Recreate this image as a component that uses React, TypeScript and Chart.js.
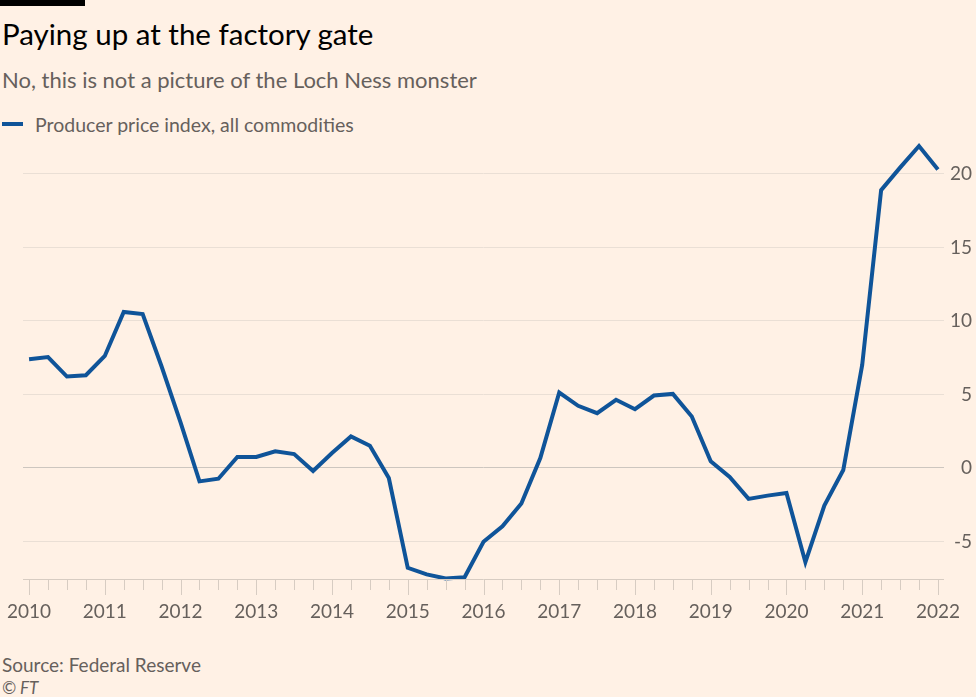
import React, { useEffect, useRef } from "react";
import { Chart, registerables } from "chart.js";

Chart.register(...registerables);

// Quarterly periods, 2010 Q1 .. 2022 Q1 (decimal years)
const years = [2010, 2011, 2012, 2013, 2014, 2015, 2016, 2017, 2018, 2019, 2020, 2021, 2022];
const quarters = [0, 0.25, 0.5, 0.75];
const periods: number[] = [];
years.forEach((y) => quarters.forEach((q) => { if (y + q <= 2022) periods.push(y + q); }));

// Producer price index, all commodities (% change on a year earlier)
const ppiValues = [
  7.4, 7.54, 6.22, 6.31,
  7.62, 10.61, 10.47, 6.9,
  3.1, -0.91, -0.73, 0.75,
  0.75, 1.13, 0.95, -0.2,
  1.02, 2.15, 1.51, -0.68,
  -6.79, -7.24, -7.52, -7.43,
  -5.02, -3.96, -2.42, 0.68,
  5.13, 4.23, 3.73, 4.64,
  4.0, 4.93, 5.04, 3.5,
  0.45, -0.61, -2.1, -1.88,
  -1.7, -6.41, -2.56, -0.14,
  7.01, 18.9, 20.43, 21.9,
  20.3,
];

const yTicks = [-5, 0, 5, 10, 15, 20];

const FONT = "Lato, 'Noto Sans', sans-serif";
const BG = "#fff1e5";
const TEXT_GREY = "#66605c";

const tickPlugin = {
  id: "quarterTicks",
  afterDraw(chart: any) {
    const { ctx, chartArea, scales } = chart;
    const xs = scales.x;
    ctx.save();
    ctx.strokeStyle = "#d7ccc2";
    ctx.lineWidth = 1;
    // axis line
    ctx.beginPath();
    ctx.moveTo(chartArea.left, Math.round(chartArea.bottom) + 0.5);
    ctx.lineTo(chartArea.right, Math.round(chartArea.bottom) + 0.5);
    ctx.stroke();
    periods.forEach((p) => {
      const x = Math.round(xs.getPixelForValue(p)) + 0.5;
      const isYear = Number.isInteger(p);
      ctx.beginPath();
      ctx.moveTo(x, chartArea.bottom);
      ctx.lineTo(x, chartArea.bottom + (isYear ? 16 : 11));
      ctx.stroke();
    });
    ctx.restore();
  },
};

function PpiChart() {
  const ref = useRef<HTMLCanvasElement | null>(null);
  useEffect(() => {
    if (!ref.current) return;
    const chart = new Chart(ref.current, {
      type: "line",
      data: {
        datasets: [
          {
            label: "Producer price index, all commodities",
            data: periods.map((p, i) => ({ x: p, y: ppiValues[i] })),
            borderColor: "#0f5499",
            borderWidth: 4,
            pointRadius: 0,
            tension: 0,
            clip: false as any,
          },
        ],
      },
      options: {
        animation: false,
        responsive: false,
        devicePixelRatio: 1,
        layout: { padding: { left: 23, right: 4, top: 16, bottom: 0 } },
        plugins: { legend: { display: false }, tooltip: { enabled: false } },
        scales: {
          x: {
            type: "linear",
            min: 2009.92,
            max: 2022.08,
            afterBuildTicks: (scale: any) => {
              scale.ticks = years.map((v) => ({ value: v }));
            },
            afterFit: (scale: any) => {
              scale.height = 60;
              scale.paddingLeft = 0;
              scale.paddingRight = 0;
            },
            grid: { display: false, drawTicks: false },
            border: { display: false },
            ticks: {
              autoSkip: false,
              maxRotation: 0,
              padding: 21,
              color: TEXT_GREY,
              font: { family: FONT, size: 19 },
              callback: (v: any) => String(v),
            },
          },
          y: {
            position: "right",
            min: -7.55,
            max: 21.9,
            afterBuildTicks: (scale: any) => {
              scale.ticks = yTicks.map((v) => ({ value: v }));
            },
            afterFit: (scale: any) => {
              scale.width = 28;
              scale.paddingTop = 0;
              scale.paddingBottom = 0;
            },
            grid: {
              drawTicks: false,
              color: (c: any) => (c.tick && c.tick.value === 0 ? "#cdc6bf" : "#eadfd5"),
              lineWidth: 1,
            },
            border: { display: false },
            ticks: {
              crossAlign: "far",
              padding: 0,
              color: TEXT_GREY,
              font: { family: FONT, size: 19 },
              callback: (v: any) => String(v),
            },
          },
        },
      } as any,
      plugins: [tickPlugin],
    });
    return () => chart.destroy();
  }, []);
  return (
    <canvas
      ref={ref}
      width={976}
      height={509}
      style={{ position: "absolute", left: 0, top: 130, width: 976, height: 509 }}
    />
  );
}

export default function App() {
  return (
    <div
      style={{
        position: "fixed",
        left: 0,
        top: 0,
        width: 976,
        height: 697,
        background: BG,
        fontFamily: FONT,
        overflow: "hidden",
      }}
    >
      <div style={{ position: "absolute", left: 0, top: 0, width: 85, height: 6, background: "#000" }} />
      <div style={{ position: "absolute", left: 2, top: 16, fontSize: 29.5, lineHeight: "36px", color: "#000" }}>
        Paying up at the factory gate
      </div>
      <div style={{ position: "absolute", left: 2, top: 66, fontSize: 22, lineHeight: "28px", color: TEXT_GREY }}>
        No, this is not a picture of the Loch Ness monster
      </div>
      <div style={{ position: "absolute", left: 2, top: 122, width: 21, height: 4, background: "#0f5499" }} />
      <div style={{ position: "absolute", left: 35, top: 112, fontSize: 19.5, lineHeight: "25px", color: TEXT_GREY }}>
        Producer price index, all commodities
      </div>
      <PpiChart />
      <div style={{ position: "absolute", left: 2, top: 653, fontSize: 19, lineHeight: "24px", color: TEXT_GREY }}>
        Source: Federal Reserve
      </div>
      <div
        style={{ position: "absolute", left: 2, top: 678, fontSize: 17, lineHeight: "20px", color: TEXT_GREY, fontStyle: "italic" }}
      >
        © FT
      </div>
    </div>
  );
}
